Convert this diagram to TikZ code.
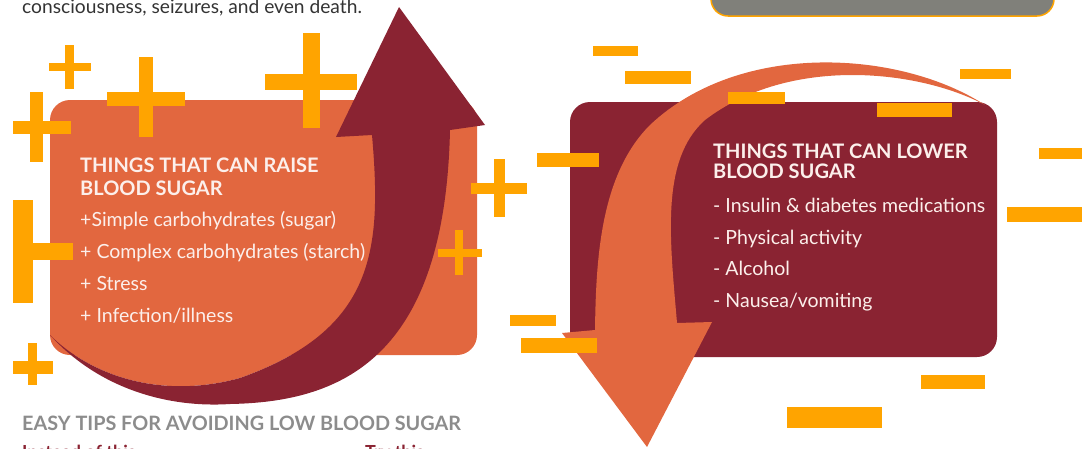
\documentclass[tikz,border=0pt]{standalone}
\usepackage{fontspec}
\setmainfont{Lato}
\usepackage{tikz}
\usetikzlibrary{calc}
\definecolor{clrRaise}{HTML}{E2673F}
\definecolor{clrLower}{HTML}{8A2332}
\definecolor{clrSign}{HTML}{FFA400}
\definecolor{clrGrey}{HTML}{80807A}
\definecolor{clrTxt}{HTML}{FCEFEB}
\tikzstyle{box_style}=[rounded corners=20pt]
\tikzstyle{title}=[anchor=base west, inner sep=0pt, text=clrTxt, font=\fontsize{20}{24}\selectfont\bfseries]
\tikzstyle{item}=[anchor=base west, inner sep=0pt, text=clrTxt, font=\fontsize{19.5}{23}\selectfont]
\tikzstyle{caption}=[anchor=base west, inner sep=0pt, font=\fontsize{19.8}{23}\selectfont\bfseries]
\tikzstyle{sign}=[fill=clrSign]
\begin{document}
\begin{tikzpicture}[x=1pt, y=-1pt]
		\useasboundingbox (0,0) rectangle (1082,448);
		\clip (0,0) rectangle (1082,448);

		% note box cut by the top border
		\draw[rounded corners=17pt, fill=clrGrey, draw=clrSign, line width=1.5pt] (711,-40) rectangle (1054,16);

		\node[anchor=base west, inner sep=0pt, text=black!80, font=\fontsize{19.2}{22}\selectfont] (intro) at (22,13) {consciousness, seizures, and even death.};

		% raise side
		\fill[box_style, clrRaise] (50,100) rectangle (477,355);
		\fill[clrRaise] (372,135) .. controls (382,250) and (375,330) .. (240,378)
			.. controls (160,400) and (90,375) .. (50,335) -- (50,200) -- cycle;
		\fill[clrLower] (50,335) .. controls (100,390) and (170,408) .. (230,404)
			.. controls (340,402) and (445,360) .. (450,130)
			-- (485,125) -- (399,7) -- (336,137) -- (372,135)
			.. controls (382,250) and (375,330) .. (240,378)
			.. controls (160,400) and (90,375) .. (50,335) -- cycle;

		\node[title] (raiseA) at (80,172) {THINGS THAT CAN RAISE};
		\node[title] (raiseB) at (80,195) {BLOOD SUGAR};
		\foreach \txt [count=\i] in {{+Simple carbohydrates (sugar)}, {+ Complex carbohydrates (starch)}, {+ Stress}, {+ Infection/illness}}
			\node[item] (raise\i) at (80,{194+32*\i}) {\txt};

		% lower side
		\fill[box_style, clrLower] (570,102) rectangle (997,357);
		\fill[clrRaise] (985,105) .. controls (900,50) and (740,40) .. (650,125)
			.. controls (600,175) and (596,260) .. (595,330)
			-- (562,333) -- (647,447) -- (712,322) -- (677,323)
			.. controls (670,240) and (660,160) .. (705,120)
			.. controls (790,55) and (920,70) .. (985,105) -- cycle;

		\node[title] (lowerA) at (713,158) {THINGS THAT CAN LOWER};
		\node[title] (lowerB) at (713,178) {BLOOD SUGAR};
		\foreach \txt [count=\i] in {{- Insulin \& diabetes medications}, {- Physical activity}, {- Alcohol}, {- Nausea/vomiting}}
			\node[item] (lower\i) at (713,{181+31.5*\i}) {\txt};

		% plus signs
		\foreach \xa/\ya/\xb/\yb in {49/63/91/71, 65/45/74/89, 107/92/185/106, 139/57/153/137,
				265/74/357/90, 303/33/320/128, 13/121/71/134, 30/92/43/162,
				13/243/73/260, 13/200/33/303, 13/361/53/374, 28/343/37/385,
				471/183/527/194, 494/159/505/217, 438/249/482/257, 455/230/463/275}
			\fill[sign] (\xa,\ya) rectangle (\xb,\yb);

		% minus signs
		\foreach \xa/\ya/\xb/\yb in {593/46/638/56, 625/71/691/84, 728/92/785/104, 877/103/952/117,
				960/69/1011/79, 537/153/599/167, 1039/148/1082/159, 1007/207/1082/222,
				510/315/556/326, 521/338/597/353, 921/375/985/389, 787/407/882/428}
			\fill[sign] (\xa,\ya) rectangle (\xb,\yb);

		\node[caption, text=black!45] (tips) at (22,430) {EASY TIPS FOR AVOIDING LOW BLOOD SUGAR};
		\node[caption, text=clrLower, font=\fontsize{18}{22}\selectfont\bfseries] (instead) at (22,458) {Instead of this};
		\node[caption, text=clrLower, font=\fontsize{18}{22}\selectfont\bfseries] (try) at (365,458) {Try this};
	\end{tikzpicture}
\end{document}
